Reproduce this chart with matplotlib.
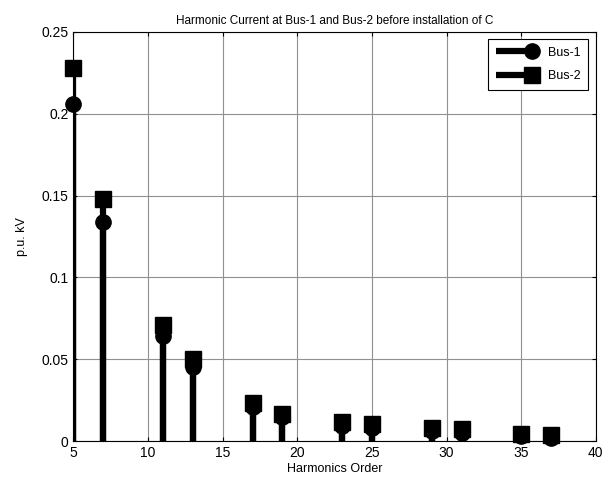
import matplotlib
matplotlib.use("Agg")
import matplotlib.pyplot as plt
from matplotlib.lines import Line2D
from matplotlib.legend_handler import HandlerBase

plt.rcParams['font.family'] = ['Liberation Sans', 'DejaVu Sans']

# harmonic orders and current magnitudes (p.u.)
orden = [5, 7, 11, 13, 17, 19, 23, 25, 29, 31, 35, 37]
bus1 = [0.206, 0.134, 0.064, 0.045, 0.021, 0.0145, 0.009, 0.008, 0.006, 0.005, 0.003, 0.002]
bus2 = [0.228, 0.148, 0.071, 0.050, 0.0235, 0.0167, 0.0115, 0.0102, 0.0082, 0.0072, 0.0045, 0.0038]

xticks = [5, 10, 15, 20, 25, 30, 35, 40]
yticks = [0, 0.05, 0.1, 0.15, 0.2, 0.25]
yticklabels = ['0', '0.05', '0.1', '0.15', '0.2', '0.25']


class StemLegend(HandlerBase):
    # horizontal line with the marker at its right end
    def create_artists(self, legend, orig, xdescent, ydescent, width, height, fontsize, trans):
        y = height / 2 - ydescent
        x1 = width - xdescent
        linea = Line2D([-xdescent, x1], [y, y], color='k', lw=orig.get_linewidth(),
                       solid_capstyle='butt')
        punto = Line2D([x1 - 3], [y], marker=orig.get_marker(), ms=orig.get_markersize(),
                       color='k', ls='none')
        linea.set_transform(trans)
        punto.set_transform(trans)
        return [linea, punto]


fig = plt.figure(figsize=(6.16, 4.9), dpi=100)
ax = fig.add_axes([0.1193, 0.1, 0.848, 0.835])

ax.grid(True, color='#909090', linewidth=0.8, linestyle='-')
ax.set_axisbelow(True)

ax.vlines(orden, 0, bus1, colors='k', linewidth=4.5, zorder=3)
ax.plot(orden, bus1, 'ko', ms=11, zorder=4, clip_on=False)
ax.vlines(orden, 0, bus2, colors='k', linewidth=4.5, zorder=3)
ax.plot(orden, bus2, 'ks', ms=11, zorder=4, clip_on=False)

h1 = Line2D([], [], color='k', lw=4.5, marker='o', ms=11)
h2 = Line2D([], [], color='k', lw=4.5, marker='s', ms=11)
leg = ax.legend([h1, h2], ['Bus-1', 'Bus-2'], handler_map={Line2D: StemLegend()},
                loc='upper right', fontsize=9, handlelength=3.2, handletextpad=1.0,
                fancybox=False, edgecolor='k', framealpha=1, borderaxespad=0.6,
                labelspacing=0.9, borderpad=0.6)
leg.get_frame().set_linewidth(0.8)
leg.set_zorder(5)

ax.set_xlim(5, 40)
ax.set_ylim(0, 0.25)
ax.set_xticks(xticks)
ax.set_yticks(yticks)
ax.set_yticklabels(yticklabels)
ax.tick_params(direction='in', top=True, right=True, labelsize=10, length=3, width=0.8)
for s in ax.spines.values():
    s.set_linewidth(0.8)

ax.set_title('Harmonic Current at Bus-1 and Bus-2 before installation of C', fontsize=8.5)
ax.set_xlabel('Harmonics Order', fontsize=9, labelpad=2)
ax.set_ylabel('p.u. kV', fontsize=9, labelpad=10)

fig.savefig('out.png', dpi=100)
